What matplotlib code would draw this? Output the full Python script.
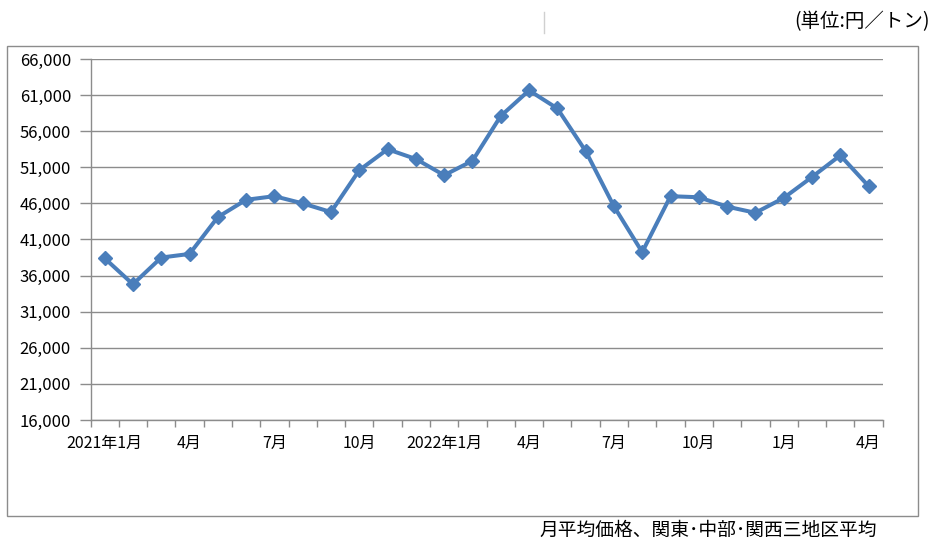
import matplotlib
matplotlib.use("Agg")
import matplotlib.pyplot as plt
from matplotlib.patches import Rectangle
from matplotlib.lines import Line2D
import numpy as np

plt.rcParams['font.family'] = ['Noto Sans CJK JP', 'DejaVu Sans']

months = ["2021年1月", "2月", "3月", "4月", "5月", "6月", "7月", "8月", "9月", "10月", "11月", "12月",
          "2022年1月", "2月", "3月", "4月", "5月", "6月", "7月", "8月", "9月", "10月", "11月", "12月",
          "1月", "2月", "3月", "4月"]
prices = [38400, 34800, 38500, 39000, 44100, 46500, 47000, 46000, 44800, 50600,
          53500, 52150, 49900, 51900, 58100, 61650, 59150, 53250, 45600, 39250,
          47000, 46850, 45550, 44700, 46750, 49650, 52650, 48400]
label_idx = [0, 3, 6, 9, 12, 15, 18, 21, 24, 27]
yticks = [16000, 21000, 26000, 31000, 36000, 41000, 46000, 51000, 56000, 61000, 66000]

W, H = 943, 546
fig = plt.figure(figsize=(W / 100, H / 100), dpi=100)

# outer frame
fig.patches.append(Rectangle((7 / W, 1 - 516 / H), (918 - 7) / W, (516 - 46.5) / H,
                             transform=fig.transFigure, fill=False, edgecolor='#8c8c8c', lw=1.0))
fig.lines.append(Line2D([544 / W, 544 / W], [1 - 12 / H, 1 - 33 / H], transform=fig.transFigure,
                        color='#d0d0d0', lw=1.0))

ax = fig.add_axes([90.5 / W, 1 - 420 / H, (882.7 - 90.5) / W, (420 - 59) / H])
x = np.arange(len(prices))
ax.plot(x, prices, color='#4a7ebb', lw=2.9, marker='D', markersize=7.5,
        markerfacecolor='#4a7ebb', markeredgecolor='#4a7ebb', zorder=3)

ax.set_xlim(-0.5, len(prices) - 0.5)
ax.set_ylim(16000, 66000)
ax.set_yticks(yticks)
ax.set_yticklabels([f"{v:,}" for v in yticks])
ax.yaxis.grid(True, color='#8c8c8c', lw=1.0)
ax.set_axisbelow(True)

ax.set_xticks(label_idx)
ax.set_xticklabels([months[i] for i in label_idx])
ax.set_xticks(np.arange(-0.5, len(prices)), minor=True)
ax.tick_params(axis='x', which='major', length=0, pad=11, labelsize=11.5)
ax.tick_params(axis='x', which='minor', length=5, color='#8c8c8c', width=1)
ax.tick_params(axis='y', length=8, color='#8c8c8c', width=1, pad=6, labelsize=12)

for s in ['top', 'right']:
    ax.spines[s].set_visible(False)
for s in ['left', 'bottom']:
    ax.spines[s].set_color('#8c8c8c')
    ax.spines[s].set_linewidth(1.0)

fig.text(930 / W, 1 - 22 / H, "(単位:円／トン)", ha='right', va='center', fontsize=14)
fig.text(708 / W, 1 - 530 / H, "月平均価格、関東･中部･関西三地区平均", ha='center', va='center', fontsize=13.5)

fig.savefig("out.png", dpi=100)
